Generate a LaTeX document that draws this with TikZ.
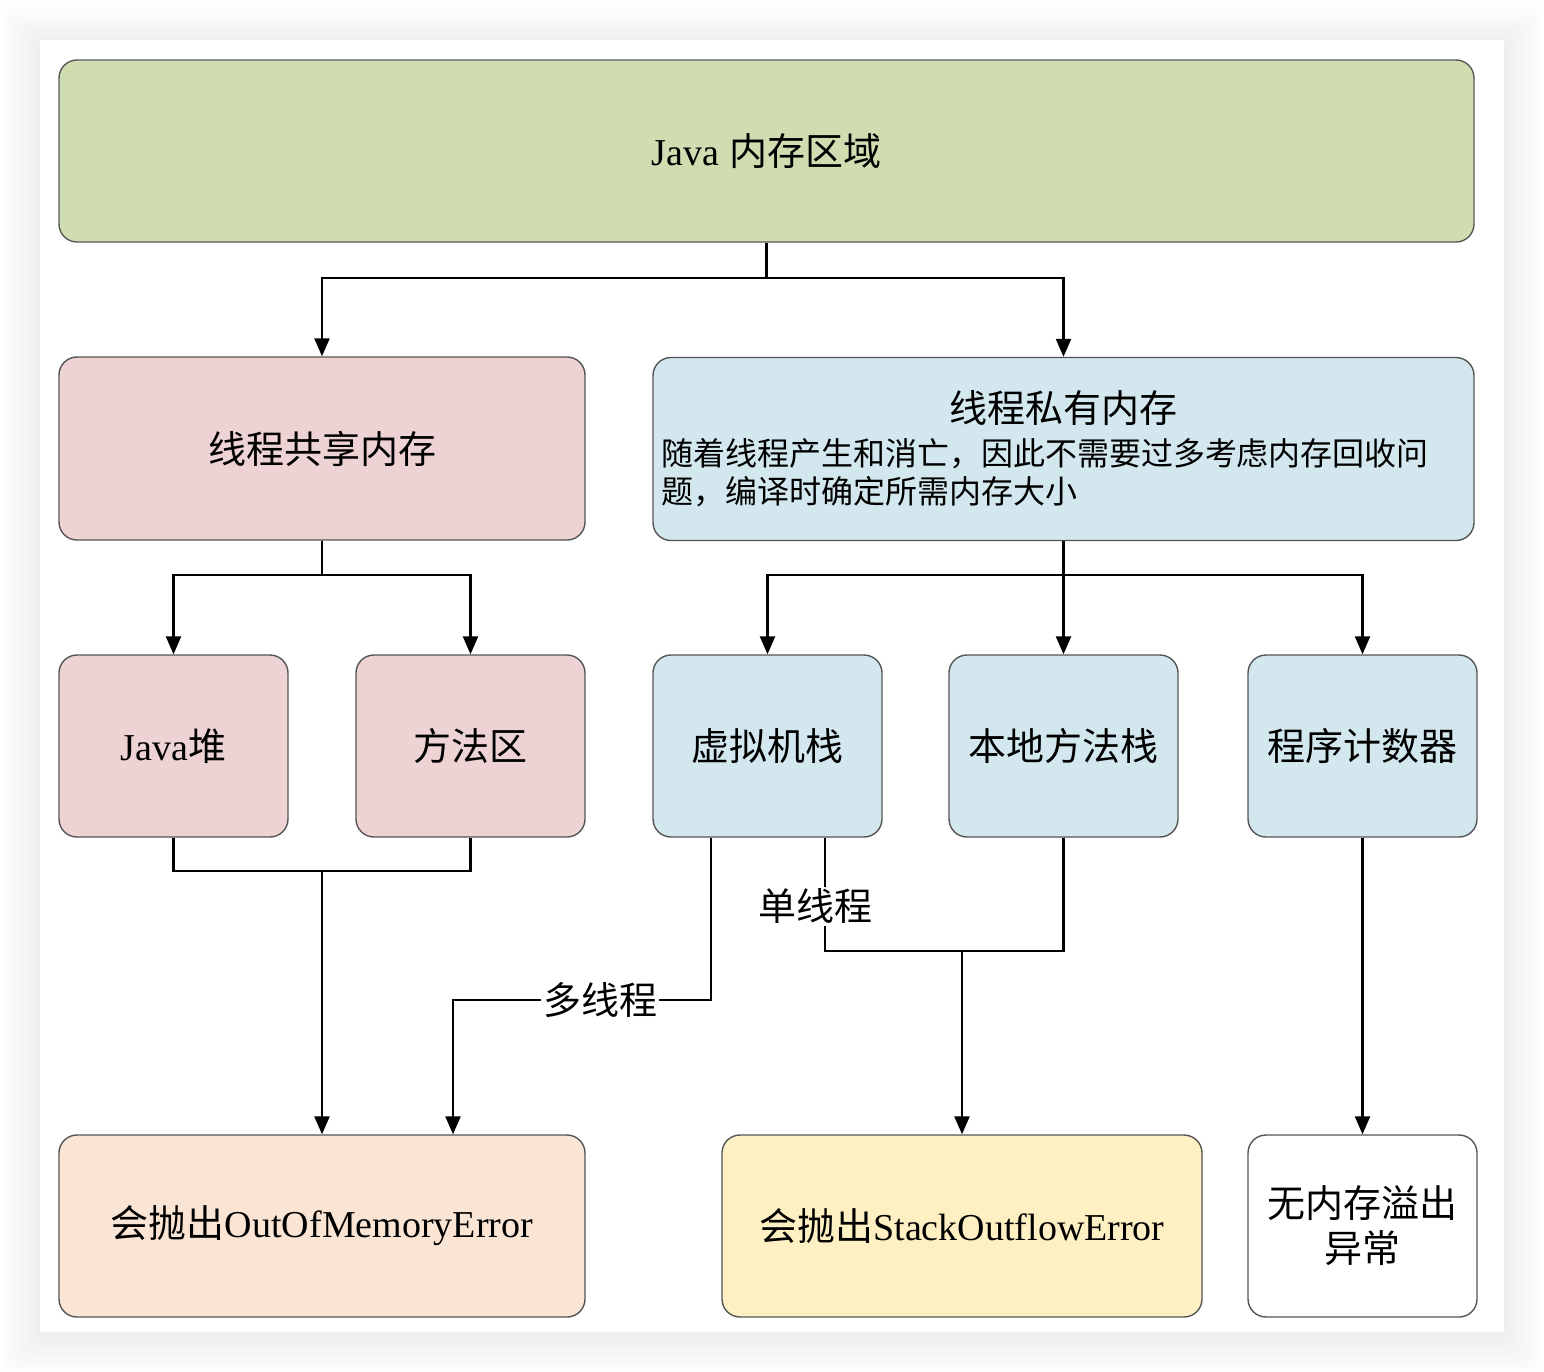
\documentclass[tikz,border=0pt]{standalone}
\usepackage{fontspec}
\setmainfont{Liberation Serif}
\newfontfamily\cjk{Noto Sans CJK SC}
\usetikzlibrary{arrows.meta,positioning}
\definecolor{cgreen}{HTML}{D0DDB1}
\definecolor{cpink}{HTML}{EDD3D3}
\definecolor{cblue}{HTML}{D3E8EE}
\definecolor{cpeach}{HTML}{FAE5D5}
\definecolor{cyellow}{HTML}{FEF0C2}
\definecolor{cborder}{HTML}{555555}
\tikzset{
  box/.style={draw=cborder, line width=0.7pt, rounded corners=9pt, inner sep=4pt, font=\fontsize{19}{23}\selectfont, align=center},
  arr/.style={line width=1.2pt, -{Triangle[length=9pt,width=7.5pt]}},
  ln/.style={line width=1.2pt},
  lbl/.style={fill=white, inner sep=1pt, font=\fontsize{19}{23}\selectfont}
}
\begin{document}
\begin{tikzpicture}[x=0.5pt,y=-0.5pt]
\useasboundingbox (0,0) rectangle (1544,1372);
\fill[white] (0,0) rectangle (1544,1372);
\foreach \i in {1,...,16} {
  \fill[black,opacity=0.005,rounded corners=4pt] (40-2.5*\i,40-2.5*\i+3) rectangle (1504+2.5*\i,1332+2.5*\i+4);
}
\fill[white] (40,40) rectangle (1504,1332);

\node[box, fill=cgreen, draw=black!65, minimum width=707.5pt, minimum height=91pt] (top) at (766.5,151) {Java {\cjk 内存区域}};
\node[box, fill=cpink, minimum width=263pt, minimum height=91.5pt] (shared) at (322,448.5) {\cjk 线程共享内存};
\node[box, fill=cblue, minimum width=410.5pt, minimum height=91.5pt, text width=402.5pt, align=left,
      font=\cjk\fontsize{16}{19}\selectfont] (private) at (1063.5,449)
  {\makebox[\linewidth]{\fontsize{19}{23}\selectfont 线程私有内存}\\[2.5pt]
   随着线程产生和消亡，因此不需要过多考虑内存回收问\\题，编译时确定所需内存大小};
\node[box, fill=cpink, minimum width=114.5pt, minimum height=91pt] (heap) at (173.5,746) {Java{\cjk 堆}};
\node[box, fill=cpink, minimum width=114.5pt, minimum height=91pt] (method) at (470.5,746) {\cjk 方法区};
\node[box, fill=cblue, minimum width=114.5pt, minimum height=91pt] (vm) at (767.5,746) {\cjk 虚拟机栈};
\node[box, fill=cblue, minimum width=114.5pt, minimum height=91pt] (native) at (1063.5,746) {\cjk 本地方法栈};
\node[box, fill=cblue, minimum width=114.5pt, minimum height=91pt] (pc) at (1362.5,746) {\cjk 程序计数器};
\node[box, fill=cpeach, minimum width=263pt, minimum height=91pt] (oom) at (322,1226) {{\cjk 会抛出}OutOfMemoryError};
\node[box, fill=cyellow, minimum width=240pt, minimum height=91pt] (soe) at (962,1226) {{\cjk 会抛出}StackOutflowError};
\node[box, fill=white, minimum width=114.5pt, minimum height=91pt, text width=106pt, font=\fontsize{19}{22.5}\selectfont] (none) at (1362.5,1226) {\cjk 无内存溢出\\异常};

% top
\draw[arr] (top.south) -- ++(0,35) -| (shared.north);
\draw[arr] (top.south) -- ++(0,35) -| (private.north);
% shared
\draw[arr] (shared.south) -- ++(0,34) -| (heap.north);
\draw[arr] (shared.south) -- ++(0,34) -| (method.north);
% private
\draw[arr] (private.south) -- (native.north);
\draw[arr] (private.south) -- ++(0,34) -| (vm.north);
\draw[arr] (private.south) -- ++(0,34) -| (pc.north);
% heap + method -> oom
\coordinate (j1) at (oom.north |- 0,871);
\draw[ln] (heap.south) |- (j1) -| (method.south);
\draw[arr] (j1) -- (oom.north);
% vm multi-thread
\coordinate (m1) at (600,1000);
\draw[arr] ([xshift=-28.25pt]vm.south) |- (m1) -| ([xshift=65.5pt]oom.north);
\node[lbl] (multi) at (m1) {\cjk 多线程};
% vm + native single-thread
\coordinate (j2) at (soe.north |- 0,951);
\draw[ln] ([xshift=28.75pt]vm.south) |- (j2) -| (native.south);
\draw[arr] (j2) -- (soe.north);
\node[lbl] (single) at (815,906) {\cjk 单线程};
% pc
\draw[arr] (pc.south) -- (none.north);
\end{tikzpicture}
\end{document}
